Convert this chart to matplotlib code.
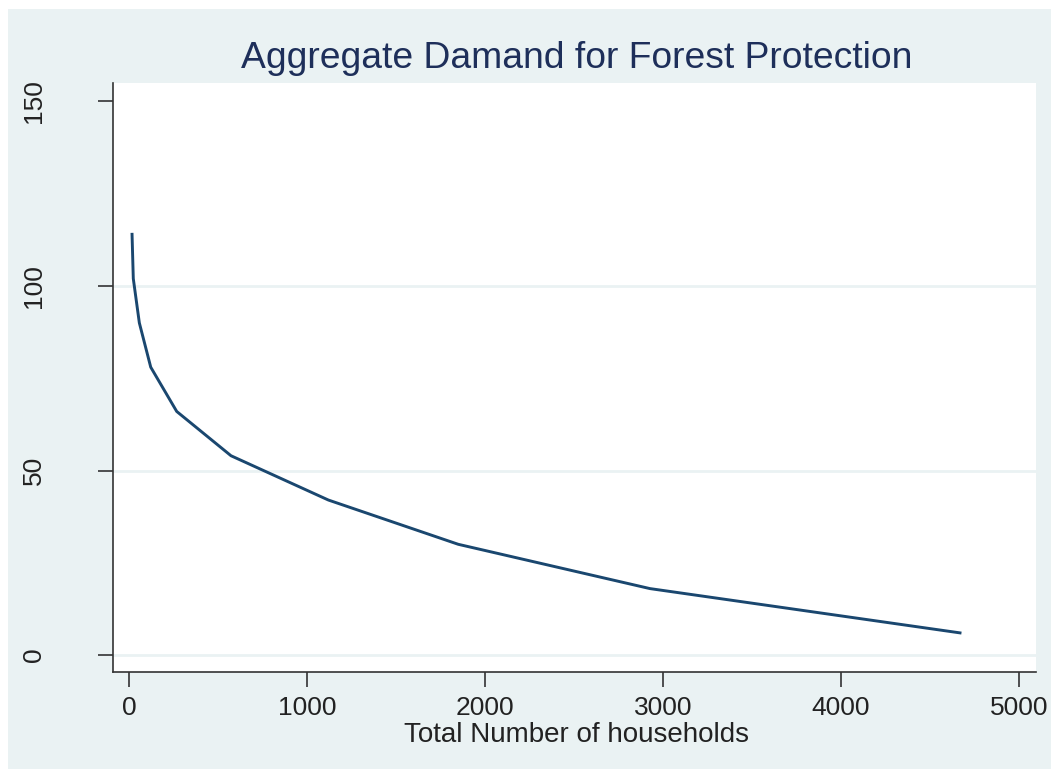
import matplotlib.pyplot as plt
from matplotlib.patches import Rectangle

# data
households = [17, 24, 58, 122, 268, 573, 1120, 1850, 2927, 4669]
price = [114, 102, 90, 78, 66, 54, 42, 30, 18, 6]
x_ticks = [0, 1000, 2000, 3000, 4000, 5000]
y_ticks = [0, 50, 100, 150]

plt.rcParams['font.family'] = ['Liberation Sans', 'DejaVu Sans']

W, H = 1051, 769
fig = plt.figure(figsize=(W / 100, H / 100), dpi=100)
fig.patch.set_facecolor('white')
bg = '#EAF2F3'
fig.patches.append(Rectangle((8 / W, 0), 1, 1 - 9 / H, transform=fig.transFigure,
                             facecolor=bg, edgecolor='none', zorder=-10))

ax = fig.add_axes([113 / W, 1 - 672 / H, 923 / W, 589 / H])
ax.set_facecolor('white')

for v in [0, 50, 100]:
    ax.axhline(v, color=bg, lw=2, zorder=1)

ax.plot(households, price, color='#1A476F', lw=2.1, zorder=3)

ax.set_xlim(-90, 5096)
ax.set_ylim(-4.6, 155)
ax.set_xticks(x_ticks)
ax.set_yticks(y_ticks)
ax.tick_params(axis='both', length=11, width=1.2, color='#333333',
               labelsize=19, labelcolor='#222222')
ax.tick_params(axis='x', pad=6)
ax.tick_params(axis='y', pad=37)
for lab in ax.get_yticklabels():
    lab.set_rotation(90)
    lab.set_va('center')

for s in ['top', 'right']:
    ax.spines[s].set_visible(False)
for s in ['left', 'bottom']:
    ax.spines[s].set_color('#333333')
    ax.spines[s].set_linewidth(1.2)

ax.set_xlabel('Total Number of households', fontsize=20, color='#222222')
ax.xaxis.label.set_va('baseline')
ax.xaxis.set_label_coords((576 - 113) / 923, (672 - 742) / 589)

fig.text(577 / W, 1 - 58 / H, 'Aggregate Damand for Forest Protection',
         ha='center', va='center', fontsize=26.8, color='#1E2F5A')

fig.savefig('out.png', dpi=100)
